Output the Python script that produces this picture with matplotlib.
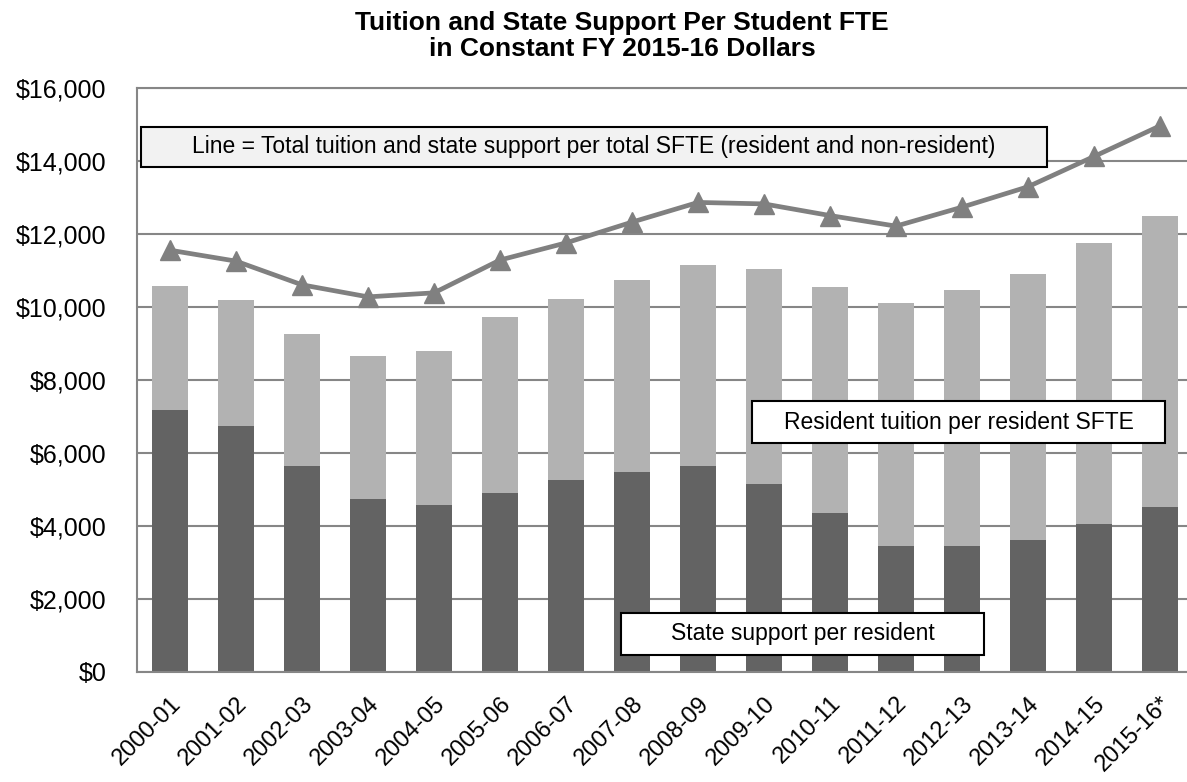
import matplotlib.pyplot as plt
import numpy as np

plt.rcParams['font.family'] = ['Liberation Sans', 'DejaVu Sans']

# fiscal years
years = ['2000-01', '2001-02', '2002-03', '2003-04', '2004-05', '2005-06',
         '2006-07', '2007-08', '2008-09', '2009-10', '2010-11', '2011-12',
         '2012-13', '2013-14', '2014-15', '2015-16*']

# state support per resident SFTE (bottom segment)
state_support = [7185, 6730, 5650, 4730, 4580, 4905, 5245, 5480, 5630,
                 5135, 4360, 3435, 3460, 3600, 4055, 4530]

# resident tuition + state support per resident SFTE (top of bar)
bar_total = [10575, 10190, 9250, 8670, 8790, 9735, 10220, 10740, 11150,
             11050, 10545, 10120, 10465, 10920, 11750, 12495]

# total tuition and state support per total SFTE (line)
line_total = [11560, 11260, 10610, 10280, 10390, 11290, 11760, 12330, 12870,
              12830, 12510, 12220, 12740, 13300, 14130, 14970]

tuition = [t - s for t, s in zip(bar_total, state_support)]
x = np.arange(len(years))

fig = plt.figure(figsize=(11.87, 7.82), dpi=100)
ax = fig.add_axes([137 / 1187, 1 - 671.7 / 782, 1056 / 1187, (671.7 - 88.3) / 782])

ax.bar(x, state_support, width=0.56, color='#636363', zorder=2)
ax.bar(x, tuition, width=0.56, bottom=state_support, color='#B2B2B2', zorder=2)
ax.plot(x, line_total, color='#808080', lw=3.4, marker='^', markersize=15,
        markeredgecolor='#808080', zorder=3)

ax.set_xlim(-0.5, 15.5)
ax.set_ylim(0, 16000)
ax.set_yticks(range(0, 16001, 2000))
ax.set_yticklabels(['${:,}'.format(v) for v in range(0, 16001, 2000)], fontsize=18)
ax.set_xticks(x)
ax.set_xticklabels(years, rotation=45, ha='right', rotation_mode='anchor', fontsize=17)
ax.tick_params(axis='y', length=0, pad=22)
ax.tick_params(axis='x', length=0, pad=15)

ax.grid(axis='y', color='#868686', lw=1.5, zorder=1)
for side in ['left', 'bottom', 'top']:
    ax.spines[side].set_color('#868686')
    ax.spines[side].set_linewidth(1.5)
ax.spines['right'].set_visible(False)

# annotation boxes
def label_box(x0, x1, y0, y1, text, face):
    ax.add_patch(plt.Rectangle((x0, y0), x1 - x0, y1 - y0, facecolor=face,
                               edgecolor='black', lw=1.5, zorder=4))
    ax.text((x0 + x1) / 2, (y0 + y1) / 2, text, ha='center', va='center',
            fontsize=16.5, zorder=5)

label_box(-0.44, 13.29, 13840, 14950,
          'Line = Total tuition and state support per total SFTE (resident and non-resident)',
          '#F2F2F2')
label_box(8.82, 15.08, 6260, 7430, 'Resident tuition per resident SFTE', 'white')
label_box(6.84, 12.34, 450, 1620, 'State support per resident', 'white')

fig.text(622 / 1187, 1 - 30 / 782, 'Tuition and State Support Per Student FTE',
         ha='center', va='baseline', fontsize=19, fontweight='bold')
fig.text(622 / 1187, 1 - 56 / 782, 'in Constant FY 2015-16 Dollars',
         ha='center', va='baseline', fontsize=19, fontweight='bold')

fig.savefig('out.png', dpi=100)
